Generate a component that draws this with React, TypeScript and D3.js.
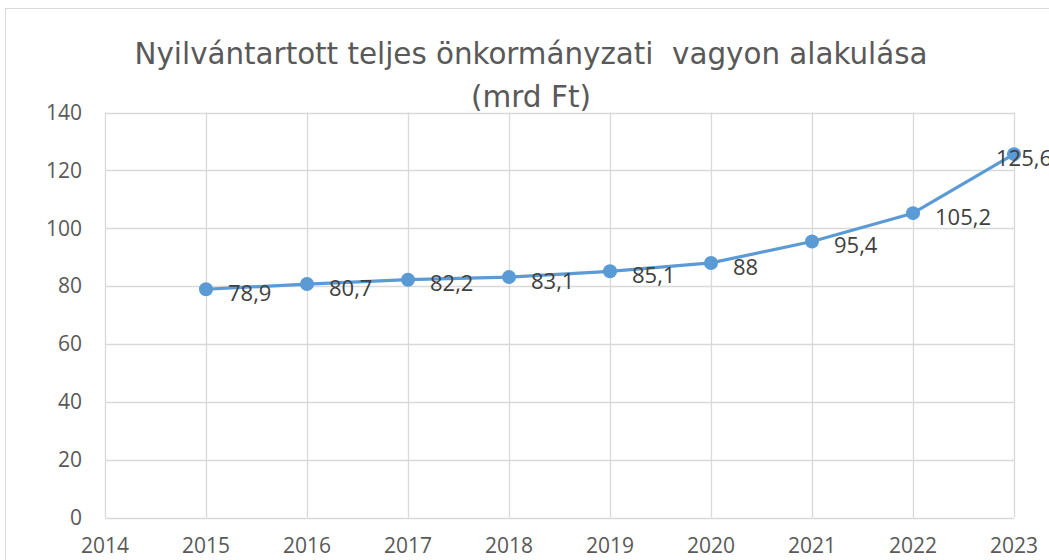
import React, { useEffect, useRef } from 'react'
import * as d3 from 'd3'

const years = [2015, 2016, 2017, 2018, 2019, 2020, 2021, 2022, 2023]
const values = [78.9, 80.7, 82.2, 83.1, 85.1, 88, 95.4, 105.2, 125.6]
const xTicks = [2014, 2015, 2016, 2017, 2018, 2019, 2020, 2021, 2022, 2023]
const yTicks = [0, 20, 40, 60, 80, 100, 120, 140]
const titleLines = ['Nyilvántartott teljes önkormányzati  vagyon alakulása', '(mrd Ft)']

const W = 1049
const H = 560

const App = () => {
  const svgRef = useRef<SVGSVGElement>(null)

  useEffect(() => {
    const svg = d3.select(svgRef.current)
    svg.selectAll('*').remove()

    const x = d3.scaleLinear().domain([2014, 2023]).range([105, 1014])
    const y = d3.scaleLinear().domain([0, 140]).range([517.5, 112.5])
    const font = "'Open Sans', 'DejaVu Sans', sans-serif"

    svg.append('rect').attr('width', W).attr('height', H).style('fill', 'white')

    // chart border
    svg
      .append('rect')
      .attr('x', 5.5)
      .attr('y', 8.5)
      .attr('width', W + 20)
      .attr('height', H + 20)
      .style('fill', 'none')
      .style('stroke', '#d9d9d9')
      .style('stroke-width', 1)

    // grid
    svg
      .append('g')
      .selectAll('line')
      .data(yTicks)
      .join('line')
      .attr('x1', x(2014))
      .attr('x2', x(2023))
      .attr('y1', (d) => Math.round(y(d)) + 0.5)
      .attr('y2', (d) => Math.round(y(d)) + 0.5)
      .style('stroke', '#d9d9d9')
      .style('stroke-width', 1.3)

    svg
      .append('g')
      .selectAll('line')
      .data(xTicks)
      .join('line')
      .attr('x1', (d) => Math.round(x(d)) + 0.5)
      .attr('x2', (d) => Math.round(x(d)) + 0.5)
      .attr('y1', y(140))
      .attr('y2', y(0))
      .style('stroke', '#d9d9d9')
      .style('stroke-width', 1.3)

    // axis labels
    svg
      .append('g')
      .selectAll('text')
      .data(yTicks)
      .join('text')
      .attr('x', 82)
      .attr('y', (d) => y(d))
      .attr('dy', '0.35em')
      .style('text-anchor', 'end')
      .style('font', `21px ${font}`)
      .style('fill', '#595959')
      .text((d) => d)

    svg
      .append('g')
      .selectAll('text')
      .data(xTicks)
      .join('text')
      .attr('x', (d) => x(d))
      .attr('y', 553)
      .style('text-anchor', 'middle')
      .style('font', `21px ${font}`)
      .style('fill', '#595959')
      .text((d) => d)

    // title
    svg
      .append('g')
      .selectAll('text')
      .data(titleLines)
      .join('text')
      .attr('x', 531)
      .attr('y', (d, i) => 64 + i * 43)
      .style('text-anchor', 'middle')
      .style('font', `31px 'Liberation Sans Narrow', 'DejaVu Sans Condensed', sans-serif`)
      .style('white-space', 'pre')
      .style('fill', '#595959')
      .attr('textLength', (d, i) => (i === 0 ? 793 : 120))
      .attr('lengthAdjust', 'spacingAndGlyphs')
      .text((d) => d)

    // line
    const line = d3
      .line<number>()
      .x((d, i) => x(years[i]))
      .y((d) => y(d))

    svg
      .append('path')
      .datum(values)
      .attr('d', line)
      .style('fill', 'none')
      .style('stroke', '#5b9bd5')
      .style('stroke-width', 3.2)
      .style('stroke-linejoin', 'round')

    svg
      .append('g')
      .selectAll('circle')
      .data(values)
      .join('circle')
      .attr('cx', (d, i) => x(years[i]))
      .attr('cy', (d) => y(d))
      .attr('r', 7)
      .style('fill', '#5b9bd5')

    // data labels, pushed left when they would run off the chart
    svg
      .append('g')
      .selectAll('text')
      .data(values)
      .join('text')
      .attr('x', (d, i) => Math.min(x(years[i]) + 22, 996))
      .attr('y', (d) => y(d) + 4)
      .attr('dy', '0.35em')
      .style('font', `22px ${font}`)
      .style('fill', '#404040')
      .text((d) => String(d).replace('.', ','))
  }, [])

  return (
    <svg
      ref={svgRef}
      width={W}
      height={H}
      style={{ position: 'absolute', left: 0, top: 0, display: 'block' }}
    ></svg>
  )
}

export default App
